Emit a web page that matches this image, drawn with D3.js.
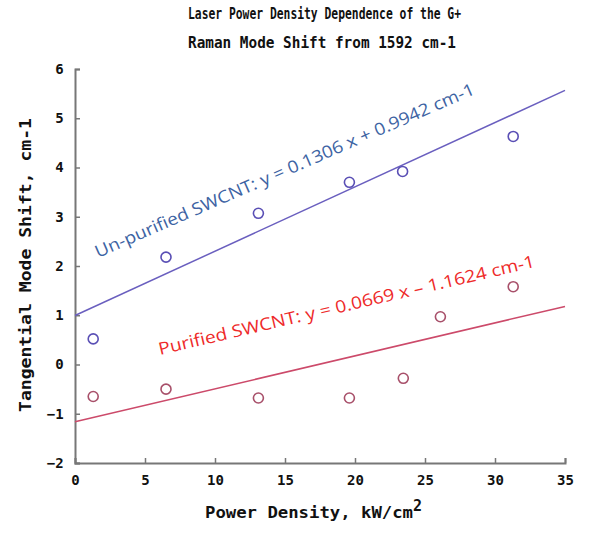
<!DOCTYPE html>
<html>
<head>
<meta charset="utf-8">
<script src="https://cdn.jsdelivr.net/npm/d3@7"></script>
<style>
  body { margin: 0; background: #fff; }
  svg text { font-family: "DejaVu Sans Mono", monospace; }
</style>
</head>
<body>
<svg id="chart"></svg>
<script>
const width = 595;
const height = 533;

// data
const unpurifiedX = [1.3, 6.5, 13.1, 19.6, 23.4, 31.3];
const unpurifiedY = [0.52, 2.18, 3.07, 3.70, 3.92, 4.63];
const purifiedX = [1.3, 6.5, 13.1, 19.6, 23.45, 26.1, 31.3];
const purifiedY = [-0.65, -0.50, -0.68, -0.68, -0.28, 0.97, 1.58];
const fitUnpurified = [0.1306, 0.9942]; // slope, intercept
const fitPurified = [0.0669, -1.1624];
const xTicks = [0, 5, 10, 15, 20, 25, 30, 35];
const yTicks = [-2, -1, 0, 1, 2, 3, 4, 5, 6];

const svg = d3.select("#chart").attr("width", width).attr("height", height);

const x = d3.scaleLinear().domain([0, 35]).range([75, 565]);
const y = d3.scaleLinear().domain([-2, 6]).range([463, 69]);

// axes
const axisColor = "#777";
const gx = svg.append("g")
  .attr("transform", `translate(0,${y(-2)})`)
  .call(d3.axisBottom(x).tickValues(xTicks).tickSize(-5).tickPadding(10));
const gy = svg.append("g")
  .attr("transform", `translate(${x(0)},0)`)
  .call(d3.axisLeft(y).tickValues(yTicks).tickSize(-5).tickPadding(10));

[gx, gy].forEach(g => {
  g.select(".domain").attr("stroke", axisColor).attr("stroke-width", 2);
  g.selectAll(".tick line").attr("stroke", axisColor).attr("stroke-width", 1.5);
  g.selectAll(".tick text")
    .attr("fill", "#111")
    .attr("font-size", 14)
    .attr("font-weight", "bold")
    .attr("font-family", "DejaVu Sans Mono");
});
gx.selectAll(".tick text").attr("dy", "0.85em");
gy.selectAll(".tick text").attr("dx", "-0.1em");

// fit lines
function drawFit(fit, color) {
  const line = d3.line().x(d => x(d)).y(d => y(fit[0] * d + fit[1]));
  svg.append("path")
    .attr("d", line([0, 35]))
    .attr("fill", "none")
    .attr("stroke", color)
    .attr("stroke-width", 1.5);
}
drawFit(fitUnpurified, "#6a5fbf");
drawFit(fitPurified, "#cc4a6a");

// markers
function drawPoints(xs, ys, color) {
  svg.append("g").selectAll("circle")
    .data(xs.map((d, i) => [d, ys[i]]))
    .join("circle")
    .attr("cx", d => x(d[0]))
    .attr("cy", d => y(d[1]))
    .attr("r", 5)
    .attr("fill", "none")
    .attr("stroke", color)
    .attr("stroke-width", 1.6);
}
drawPoints(unpurifiedX, unpurifiedY, "#5a4fb5");
drawPoints(purifiedX, purifiedY, "#a8506a");

// equation labels
svg.append("text")
  .attr("transform", "translate(98,258) rotate(-23.5)")
  .style("font-family", "'Open Sans', sans-serif")
  .attr("font-size", 17)
  .attr("fill", "#3d63a3")
  .attr("textLength", 412)
  .attr("lengthAdjust", "spacingAndGlyphs")
  .text("Un-purified SWCNT: y = 0.1306 x + 0.9942 cm-1");

svg.append("text")
  .attr("transform", "translate(160,355) rotate(-13.2)")
  .style("font-family", "'Open Sans', sans-serif")
  .attr("font-size", 17)
  .attr("fill", "#ee2a2a")
  .attr("textLength", 386)
  .attr("lengthAdjust", "spacingAndGlyphs")
  .text("Purified SWCNT:  y = 0.0669 x \u2013 1.1624 cm-1");

// titles
const title = svg.append("g").attr("font-size", 16).attr("font-weight", "bold").attr("fill", "#111");
title.append("text")
  .attr("x", 188).attr("y", 19)
  .attr("textLength", 273).attr("lengthAdjust", "spacingAndGlyphs")
  .text("Laser Power Density Dependence of the G+");
title.append("text")
  .attr("x", 188).attr("y", 48)
  .attr("textLength", 268).attr("lengthAdjust", "spacingAndGlyphs")
  .text("Raman Mode Shift from 1592 cm-1");

const xLabel = svg.append("text")
  .attr("x", 205).attr("y", 518)
  .attr("font-size", 16).attr("font-weight", "bold").attr("fill", "#111");
xLabel.append("tspan")
  .attr("textLength", 208).attr("lengthAdjust", "spacingAndGlyphs")
  .text("Power Density, kW/cm");
xLabel.append("tspan").attr("dy", -7).attr("font-size", 15).text("2");

svg.append("text")
  .attr("transform", "translate(31,412) rotate(-90)")
  .attr("font-size", 16).attr("font-weight", "bold").attr("fill", "#111")
  .attr("textLength", 294).attr("lengthAdjust", "spacingAndGlyphs")
  .text("Tangential Mode Shift, cm-1");
</script>
</body>
</html>
